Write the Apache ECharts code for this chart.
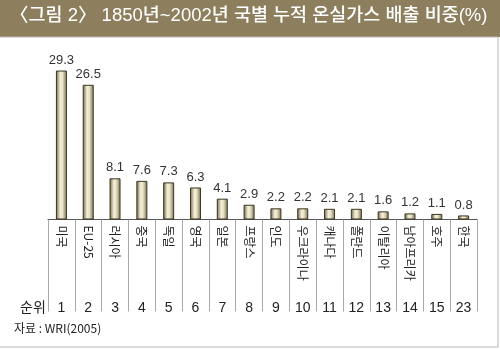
<!DOCTYPE html>
<html><head><meta charset="utf-8">
<script src="https://cdn.jsdelivr.net/npm/echarts@6/dist/echarts.min.js"></script>
<style>html,body{margin:0;padding:0;background:#fff}#c{width:500px;height:349px}</style>
</head><body><div id="c"></div>
<script>
const countries = ['미국','EU-25','러시아','중국','독일','영국','일본','프랑스','인도','우크라이나','캐나다','폴란드','이탈리아','남아프리카','호주','한국'];
const shares = [29.3,26.5,8.1,7.6,7.3,6.3,4.1,2.9,2.2,2.2,2.1,2.1,1.6,1.2,1.1,0.8];
const ranks = ['1','2','3','4','5','6','7','8','9','10','11','12','13','14','15','23'];
const titleText = '〈그림 2〉 1850년~2002년 국별 누적 온실가스 배출 비중(%)';
const sourceText = '자료 : WRI(2005)';
const rankLabel = '순위';

const chart = echarts.init(document.getElementById('c'), null, {renderer:'canvas'});
const ko = '"Noto Sans CJK KR", "Liberation Sans", sans-serif';
const lat = '"Liberation Sans", "Noto Sans CJK KR", sans-serif';
chart.setOption({
  animation:false,
  backgroundColor:'#fff',
  graphic:[
    {type:'rect', shape:{x:0,y:0,width:500,height:37}, style:{fill:'#8d7f5d'}, z:0},
    {type:'rect', shape:{x:-2,y:37,width:500,height:310}, style:{fill:'none',stroke:'#b8b8b8',lineWidth:1}, z:0},
    {type:'text', left:10, top:7, style:{text:titleText, fill:'#fff', font:'500 18.5px '+lat}, z:5},
    {type:'text', left:20, top:300, style:{text:rankLabel, fill:'#222', font:'14px '+ko}, z:5},
    {type:'text', left:14, top:322, style:{text:sourceText, fill:'#222', font:'12px '+ko}, z:5}
  ],
  grid:{left:48, right:23, top:67, bottom:129.5},
  xAxis:[
    {type:'category', data:countries, position:'bottom',
     axisLine:{lineStyle:{color:'#555'}},
     axisTick:{show:true, length:92, lineStyle:{color:'#aaa'}, alignWithLabel:false, interval:0},
     axisLabel:{interval:0, rotate:-90, margin:6, fontSize:12, color:'#222', fontFamily:ko}},
    {type:'category', data:ranks, position:'bottom', offset:74,
     axisLine:{show:false}, axisTick:{show:false},
     axisLabel:{interval:0, margin:8, fontSize:14, color:'#222', fontFamily:'"Liberation Sans", Arial, sans-serif'}}
  ],
  yAxis:{type:'value', min:0, max:30, show:false, splitLine:{show:false}},
  series:[{
    type:'bar', data:shares, xAxisIndex:0, barWidth:11,
    itemStyle:{
      color:new echarts.graphic.LinearGradient(0,0,1,0,[
        {offset:0,color:'#6e6343'},{offset:0.4,color:'#f4f0dc'},{offset:0.6,color:'#e9e3c6'},{offset:1,color:'#7a6f4e'}]),
      borderColor:'#3b3522', borderWidth:1
    },
    label:{show:true, position:'top', distance:4, fontSize:13, color:'#333', fontFamily:'"Liberation Sans", Arial, sans-serif'}
  }]
});
</script></body></html>
